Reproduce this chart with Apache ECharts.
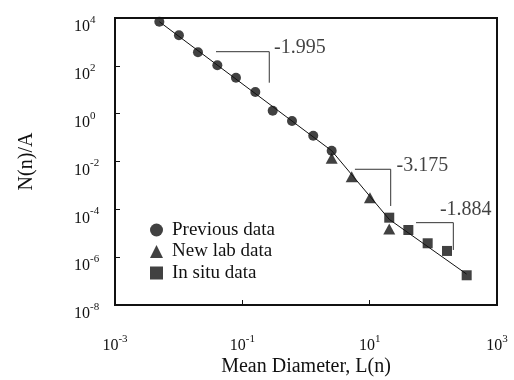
<!DOCTYPE html>
<html>
<head>
<meta charset="utf-8">
<script src="https://cdn.jsdelivr.net/npm/echarts@6/dist/echarts.min.js"></script>
<style>html,body{margin:0;padding:0;background:#fff}#c{width:514px;height:380px}</style>
</head>
<body>
<div id="c"></div>
<script>
// Previous data (circles)
var prevX = [0.00497, 0.0101, 0.0201, 0.0405, 0.0794, 0.160, 0.300, 0.603, 1.30, 2.53];
var prevY = [7000, 1890, 368, 105, 31.9, 8.05, 1.33, 0.494, 0.120, 0.0283];
// New lab data (triangles)
var labX = [2.53, 5.22, 10.1, 20.3];
var labY = [0.0136, 0.00232, 0.000308, 0.0000151];
// In situ data (squares)
var situX = [20.3, 40.5, 81.5, 164, 334];
var situY = [0.0000448, 0.0000137, 0.00000381, 0.00000182, 0.000000175];
// fitted power-law line (break points)
var fitX = [0.00497, 2.53, 20.3, 334];
var fitY = [7000, 0.0282, 0.000038, 0.000000195];
// slope brackets
var bracket1X = [0.0386, 0.265, 0.265], bracket1Y = [390, 390, 19.7];
var bracket2X = [5.87, 21.4, 21.4], bracket2Y = [0.00473, 0.00473, 0.000138];
var bracket3X = [53.5, 206, 206], bracket3Y = [0.0000277, 0.0000277, 0.0000020];
// slope labels
var slopeText = ['-1.995', '-3.175', '-1.884'];
var slopeX = [0.314, 26.5, 127];
var slopeY = [557, 0.0065, 0.000094];
// tick values
var xTicks = [0.001, 0.1, 10, 1000];
var yTicks = [1e-8, 1e-6, 1e-4, 1e-2, 1, 100, 10000];

function pairs(xs, ys) { return xs.map(function (x, i) { return [x, ys[i]]; }); }
var FONT = '"Liberation Serif", "Times New Roman", serif';
function fmt(v) {
  var e = Math.round(Math.log10(v));
  return '{b|10}{s|' + e + '}';
}
var rich = {
  b: { fontSize: 16, fontFamily: FONT, color: '#111', padding: [18, 0, 0, 0] },
  s: { fontSize: 11, fontFamily: FONT, color: '#111', padding: [4, 0, 0, 0] }
};
var bracketStyle = { color: '#333', width: 1 };

var chart = echarts.init(document.getElementById('c'), null, { renderer: 'canvas' });
chart.setOption({
  animation: false,
  backgroundColor: '#fff',
  grid: { left: 115, right: 17, top: 18, bottom: 75, show: true, borderColor: '#111', borderWidth: 2, outerBoundsMode: 'none', containLabel: false },
  legend: {
    orient: 'vertical', left: 145, top: 215, itemWidth: 13, itemHeight: 13, itemGap: 1.5,
    textStyle: { fontFamily: FONT, fontSize: 19, lineHeight: 20, color: '#111', padding: [0, 0, 0, 4] },
    data: [
      { name: 'Previous data', icon: 'circle' },
      { name: 'New lab data', icon: 'triangle' },
      { name: 'In situ data', icon: 'rect' }
    ]
  },
  xAxis: {
    type: 'log', logBase: 10, min: 0.001, max: 1000,
    name: 'Mean Diameter, L(n)', nameLocation: 'middle', nameGap: 52, nameMoveOverlap: false,
    nameTextStyle: { fontFamily: FONT, fontSize: 20, color: '#111' },
    axisLine: { show: true, lineStyle: { color: '#111', width: 2 } },
    axisTick: { show: true, inside: true, length: 5, lineStyle: { color: '#111' }, customValues: [0.1, 10] },
    axisLabel: { customValues: xTicks, formatter: fmt, rich: rich, margin: 15 },
    splitLine: { show: false }, minorTick: { show: false }
  },
  yAxis: {
    type: 'log', logBase: 10, min: 1e-8, max: 1e4, interval: 2,
    name: 'N(n)/A', nameLocation: 'middle', nameGap: 78, nameRotate: 90,
    nameTextStyle: { fontFamily: FONT, fontSize: 20, color: '#111' },
    axisLine: { show: true, lineStyle: { color: '#111', width: 2 } },
    axisTick: { show: true, inside: true, length: 5, lineStyle: { color: '#111' }, customValues: yTicks },
    axisLabel: { customValues: yTicks, formatter: fmt, rich: rich, margin: 41, align: 'left' },
    splitLine: { show: false }
  },
  series: [
    { type: 'line', name: 'fit', data: pairs(fitX, fitY), symbol: 'none', lineStyle: { color: '#111', width: 1 }, silent: true, z: 1 },
    { type: 'line', name: 'b1', data: pairs(bracket1X, bracket1Y), symbol: 'none', lineStyle: bracketStyle, z: 1 },
    { type: 'line', name: 'b2', data: pairs(bracket2X, bracket2Y), symbol: 'none', lineStyle: bracketStyle, z: 1 },
    { type: 'line', name: 'b3', data: pairs(bracket3X, bracket3Y), symbol: 'none', lineStyle: bracketStyle, z: 1 },
    { type: 'scatter', name: 'Previous data', data: pairs(prevX, prevY), symbol: 'circle', symbolSize: 10, itemStyle: { color: '#111' }, z: 3 },
    { type: 'scatter', name: 'New lab data', data: pairs(labX, labY), symbol: 'triangle', symbolSize: [12, 11], itemStyle: { color: '#111' }, z: 3 },
    { type: 'scatter', name: 'In situ data', data: pairs(situX, situY), symbol: 'rect', symbolSize: 10, itemStyle: { color: '#111' }, z: 3 },
    { type: 'scatter', name: 'slopes', data: slopeX.map(function (x, i) { return { value: [x, slopeY[i]], name: slopeText[i] }; }),
      symbolSize: 0, silent: true,
      label: { show: true, position: 'right', distance: 0, formatter: '{b}', fontFamily: FONT, fontSize: 20, color: '#111' } }
  ]
});
</script>
</body>
</html>
